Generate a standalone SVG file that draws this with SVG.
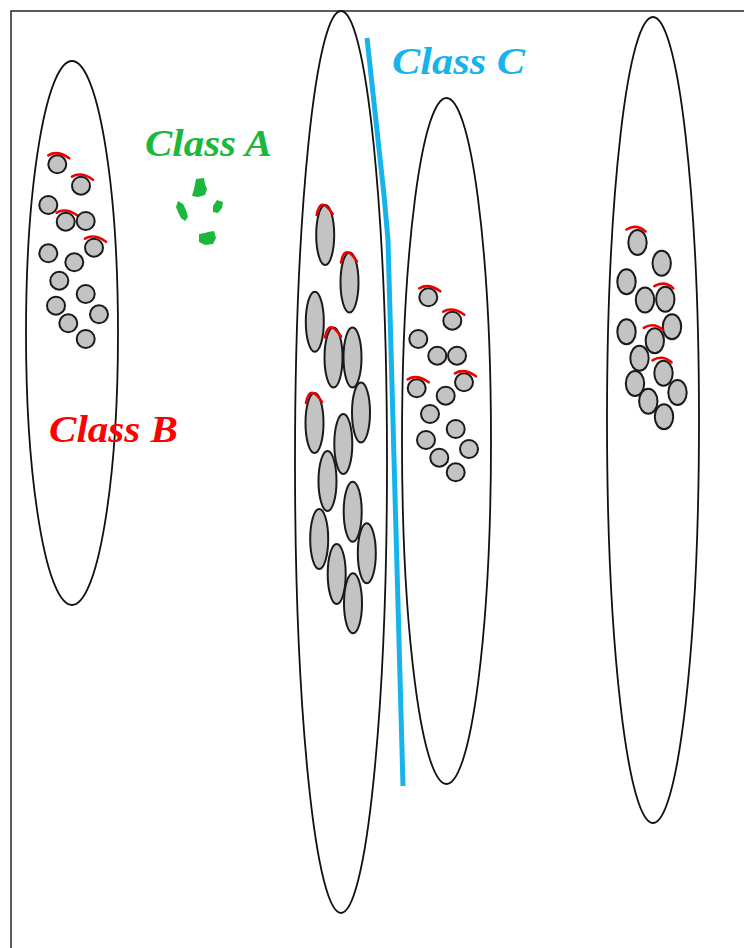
<svg xmlns="http://www.w3.org/2000/svg" xmlns:xlink="http://www.w3.org/1999/xlink" width="744" height="948" viewBox="0 0 744 948">
<style>
.big{fill:none;stroke:#111;stroke-width:1.8}
.c{fill:#c3c3c3;stroke:#1a1a1a;stroke-width:2}
.arc{fill:none;stroke:#ee0000;stroke-width:2.6;stroke-linecap:round}
.lbl{font-family:"Liberation Serif","Times New Roman",serif;font-weight:bold;font-style:italic;font-size:38px}
.blob{fill:#1cb83c}
</style>
<defs>
<circle id="cc" r="9" class="c"/>
<ellipse id="et" rx="9" ry="30" class="c"/>
<ellipse id="er" rx="9.2" ry="12.5" class="c"/>
<path id="ac" class="arc" d="M-9,-9 Q0,-14.5 12,-6"/>
<path id="at" class="arc" d="M-8.5,-20 Q-5,-40 7.5,-21"/>
<path id="ar" class="arc" d="M-11,-13 Q-1,-19 8,-11"/>
</defs>
<rect width="744" height="948" fill="#fff"/>
<rect id="frame" x="11" y="11" width="745" height="950" fill="none" stroke="#333" stroke-width="1.6"/>

<g id="ellipses">
<ellipse id="e-left" class="big" cx="72" cy="333" rx="46" ry="272"/>
<ellipse id="e-mid" class="big" cx="341" cy="462" rx="46" ry="451"/>
<ellipse id="e-second" class="big" cx="446.5" cy="441" rx="44.5" ry="343"/>
<ellipse id="e-right" class="big" cx="653" cy="420" rx="46" ry="403"/>
</g>

<g id="cluster-left">
<use xlink:href="#cc" x="57.3" y="164.3"/><use xlink:href="#ac" x="57.3" y="164.3"/>
<use xlink:href="#cc" x="81" y="185.7"/><use xlink:href="#ac" x="81" y="185.7"/>
<use xlink:href="#cc" x="48.3" y="205"/>
<use xlink:href="#cc" x="65.7" y="221.7"/><use xlink:href="#ac" x="65.7" y="221.7"/>
<use xlink:href="#cc" x="85.7" y="221"/>
<use xlink:href="#cc" x="94" y="247.7"/><use xlink:href="#ac" x="94" y="247.7"/>
<use xlink:href="#cc" x="48.3" y="253.3"/>
<use xlink:href="#cc" x="74.3" y="262.3"/>
<use xlink:href="#cc" x="59.3" y="280.7"/>
<use xlink:href="#cc" x="85.7" y="294"/>
<use xlink:href="#cc" x="56" y="305.7"/>
<use xlink:href="#cc" x="99" y="314.3"/>
<use xlink:href="#cc" x="68.3" y="323.3"/>
<use xlink:href="#cc" x="85.7" y="339"/>
</g>

<g id="cluster-mid">
<use xlink:href="#et" x="325.2" y="235"/><use xlink:href="#at" x="325.2" y="235"/>
<use xlink:href="#et" x="349.5" y="282.5"/><use xlink:href="#at" x="349.5" y="282.5"/>
<use xlink:href="#et" x="314.8" y="321.7"/>
<use xlink:href="#et" x="352.5" y="357.5"/>
<use xlink:href="#et" x="333.5" y="357.5"/><use xlink:href="#at" x="333.5" y="357.5"/>
<use xlink:href="#et" x="361" y="412.5"/>
<use xlink:href="#et" x="314.5" y="423"/><use xlink:href="#at" x="314.5" y="423"/>
<use xlink:href="#et" x="343.3" y="444"/>
<use xlink:href="#et" x="327.5" y="481"/>
<use xlink:href="#et" x="352.7" y="511.7"/>
<use xlink:href="#et" x="319.2" y="539"/>
<use xlink:href="#et" x="366.8" y="553.3"/>
<use xlink:href="#et" x="336.7" y="574"/>
<use xlink:href="#et" x="353" y="603.3"/>
</g>

<g id="cluster-second">
<use xlink:href="#cc" x="428.3" y="297.3"/><use xlink:href="#ac" x="428.3" y="297.3"/>
<use xlink:href="#cc" x="452.3" y="320.7"/><use xlink:href="#ac" x="452.3" y="320.7"/>
<use xlink:href="#cc" x="418.3" y="339"/>
<use xlink:href="#cc" x="437.3" y="355.7"/>
<use xlink:href="#cc" x="457" y="355.7"/>
<use xlink:href="#cc" x="416.7" y="388.3"/><use xlink:href="#ac" x="416.7" y="388.3"/>
<use xlink:href="#cc" x="464" y="382.3"/><use xlink:href="#ac" x="464" y="382.3"/>
<use xlink:href="#cc" x="445.7" y="395.7"/>
<use xlink:href="#cc" x="430" y="414"/>
<use xlink:href="#cc" x="455.7" y="429"/>
<use xlink:href="#cc" x="426" y="440"/>
<use xlink:href="#cc" x="469" y="449"/>
<use xlink:href="#cc" x="439.3" y="457.7"/>
<use xlink:href="#cc" x="455.7" y="472.3"/>
</g>

<g id="cluster-right">
<use xlink:href="#er" x="637.5" y="242.5"/><use xlink:href="#ar" x="637.5" y="242.5"/>
<use xlink:href="#er" x="661.7" y="263.3"/>
<use xlink:href="#er" x="626.5" y="281.7"/>
<use xlink:href="#er" x="645" y="300"/>
<use xlink:href="#er" x="665.3" y="299.2"/><use xlink:href="#ar" x="665.3" y="299.2"/>
<use xlink:href="#er" x="626.5" y="331.7"/>
<use xlink:href="#er" x="672" y="326.7"/>
<use xlink:href="#er" x="654.8" y="340.8"/><use xlink:href="#ar" x="654.8" y="340.8"/>
<use xlink:href="#er" x="639.5" y="358.3"/>
<use xlink:href="#er" x="663.5" y="373.3"/><use xlink:href="#ar" x="663.5" y="373.3"/>
<use xlink:href="#er" x="635" y="383.5"/>
<use xlink:href="#er" x="677.5" y="392.5"/>
<use xlink:href="#er" x="648.3" y="401.3"/>
<use xlink:href="#er" x="664" y="416.7"/>
</g>

<g id="class-a-blobs">
<path class="blob" d="M196,179 L204,178 L205,184 L207,189 L205,195 L198,197 L192,196 L194,189 L195,184 Z"/>
<path class="blob" d="M178,201 L183,204 L186,210 L188,217 L185,221 L181,218 L178,212 L176,207 Z"/>
<path class="blob" d="M217,200 L223,202 L222,208 L218,213 L213,212 L213,206 Z"/>
<path class="blob" d="M199,234 L205,233 L208,232 L214,231 L216,238 L213,244 L205,245 L199,242 Z"/>
</g>

<g id="class-c-line">
<polyline points="367,38 384,195 388,240 403,786" fill="none" stroke="#17b4ec" stroke-width="5" stroke-linejoin="round"/>
</g>

<g id="labels">
<text class="lbl" x="145" y="156" fill="#1cb83c" textLength="127" lengthAdjust="spacingAndGlyphs">Class A</text>
<text class="lbl" x="49" y="442" fill="#ff0000" textLength="129" lengthAdjust="spacingAndGlyphs">Class B</text>
<text class="lbl" x="392" y="74" fill="#17b4ec" textLength="133" lengthAdjust="spacingAndGlyphs">Class C</text>
</g>
</svg>
